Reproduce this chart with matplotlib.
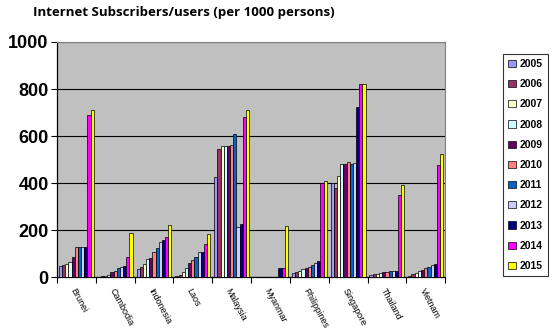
import matplotlib.pyplot as plt
import numpy as np

countries = ['Brunei', 'Cambodia', 'Indonesia', 'Laos', 'Malaysia',
             'Myanmar', 'Philippines', 'Singapore', 'Thailand', 'Vietnam']
years = ['2005', '2006', '2007', '2008', '2009', '2010',
         '2011', '2012', '2013', '2014', '2015']

# values per country, 2005..2015
brunei      = [48, 50, 54, 64, 85, 128, 128, 128, 130, 690, 710]
cambodia    = [1, 3, 5, 10, 20, 25, 40, 45, 48, 88, 190]
indonesia   = [35, 43, 57, 78, 81, 109, 123, 149, 159, 170, 220]
laos        = [5, 10, 20, 38, 60, 74, 88, 108, 109, 140, 184]
malaysia    = [425, 545, 556, 556, 556, 562, 610, 215, 225, 680, 712]
myanmar     = [0, 0, 0, 0, 0, 0, 0, 0, 40, 40, 218]
philippines = [17, 23, 28, 34, 38, 45, 50, 62, 67, 400, 407]
singapore   = [400, 380, 430, 480, 480, 490, 482, 485, 722, 821, 821]
thailand    = [10, 12, 15, 18, 20, 22, 25, 27, 28, 350, 393]
vietnam     = [6, 12, 18, 25, 30, 38, 42, 50, 57, 478, 525]

data = np.array([brunei, cambodia, indonesia, laos, malaysia,
                 myanmar, philippines, singapore, thailand, vietnam])

colors = ['#9999FF', '#993366', '#FFFFCC', '#CCFFFF', '#660066', '#FF8080',
          '#0066CC', '#CCCCFF', '#000080', '#FF00FF', '#FFFF00']

fig = plt.figure(figsize=(5.53, 3.36), dpi=100)
ax = fig.add_axes([0.103, 0.175, 0.702, 0.700])
ax.set_facecolor('#C0C0C0')

x = np.arange(len(countries))
n = len(years)
w = 0.9 / n
for i in range(n):
    ax.bar(x - 0.45 + w * (i + 0.5), data[:, i], width=w, color=colors[i],
           edgecolor='black', linewidth=0.5, label=years[i], zorder=3)

ax.set_xlim(-0.5, len(countries) - 0.5)
ax.set_ylim(0, 1000)
ax.set_yticks([0, 200, 400, 600, 800, 1000])
ax.set_yticklabels(['0', '200', '400', '600', '800', '1000'],
                   fontsize=13, fontweight='bold', family='Liberation Sans')
ax.yaxis.grid(True, color='black', linewidth=0.8, zorder=1)
ax.set_axisbelow(True)

ax.set_xticks(np.arange(len(countries) + 1) - 0.5)
ax.set_xticklabels([])
ax.set_xticks(x, minor=True)
ax.set_xticklabels(countries, minor=True, rotation=-62, ha='left', va='top',
                   rotation_mode='anchor', fontsize=6.5, family='Liberation Sans')
ax.tick_params(axis='x', which='minor', length=0, pad=7)
ax.tick_params(axis='x', which='major', length=4, width=0.8)
ax.tick_params(axis='y', length=4, width=0.8, pad=2)

for s in ['top', 'right']:
    ax.spines[s].set_color('#808080')
for s in ['left', 'bottom']:
    ax.spines[s].set_color('black')
    ax.spines[s].set_linewidth(0.9)

fig.text(0.06, 0.962, 'Internet Subscribers/users (per 1000 persons)',
         fontsize=9.5, fontweight='bold', family='Open Sans', va='center')

leg = fig.legend(loc='upper left', bbox_to_anchor=(0.91, 0.84),
                 frameon=True, fancybox=False, edgecolor='black',
                 prop={'family': 'Liberation Sans', 'weight': 'bold', 'size': 7.5},
                 handlelength=0.7, handleheight=0.7, handletextpad=0.4,
                 labelspacing=0.98, borderpad=0.5, borderaxespad=0)
leg.get_frame().set_linewidth(0.8)

fig.savefig('out.png', dpi=100)
